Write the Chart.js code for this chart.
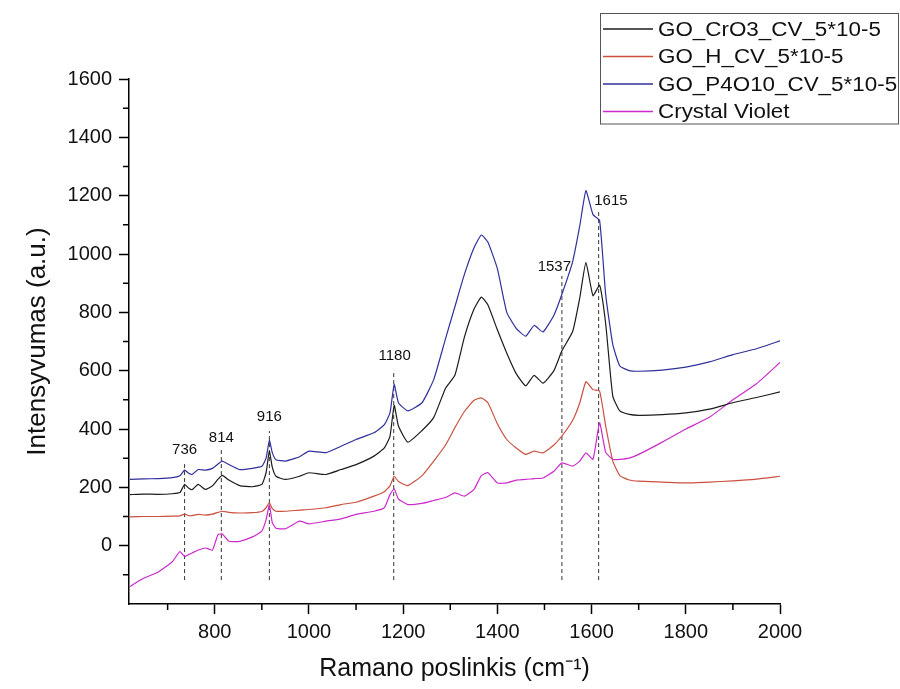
<!DOCTYPE html>
<html lang="lt">
<head>
    <meta charset="UTF-8">
    <title>Ramano spektrai</title>
    <script src="https://cdn.jsdelivr.net/npm/chart.js"></script>
    <style>
        body {
            margin: 0;
            padding: 0;
            background-color: #fff;
        }

        .chart-box {
            width: 900px;
            height: 689px;
            position: relative;
        }
    </style>
</head>
<body>
    <div class="chart-box">
        <canvas id="ramanChart"></canvas>
    </div>

    <script>
        // Raman shift (cm-1), shared by all four spectra
        const wavenumbers = [620, 650, 680, 710, 726, 736, 745, 752, 765, 780,
            795, 807, 816, 830, 853, 880, 900, 909, 916, 922,
            930, 950, 980, 1000, 1036, 1068, 1100, 1138, 1160, 1172,
            1181, 1190, 1210, 1240, 1265, 1290, 1310, 1330, 1350, 1366,
            1380, 1400, 1420, 1440, 1460, 1478, 1497, 1520, 1537, 1560,
            1575, 1588, 1603, 1617, 1630, 1645, 1660, 1680, 1700, 1750,
            1800, 1850, 1900, 1950, 2000];

        const goCrO3 = [175, 177, 176, 178, 182, 210, 197, 192, 210, 193,
            205, 228, 241, 225, 206, 202, 210, 250, 324, 270,
            238, 227, 238, 250, 244, 261, 278, 307, 335, 375,
            481, 410, 355, 395, 440, 540, 585, 715, 810, 852,
            825, 740, 660, 590, 548, 584, 557, 600, 668, 735,
            850, 971, 857, 893, 760, 513, 462, 450, 447, 449,
            455, 468, 490, 508, 527];

        const goH = [99, 100, 100, 101, 102, 108, 103, 103, 107, 105,
            108, 114, 118, 114, 112, 113, 117, 130, 147, 128,
            118, 118, 122, 124, 130, 141, 149, 170, 185, 205,
            238, 220, 206, 240, 290, 345, 405, 460, 498, 507,
            490, 418, 364, 335, 313, 324, 318, 345, 376, 430,
            490, 562, 535, 530, 410, 290, 240, 225, 221, 218,
            215, 218, 222, 228, 238];

        const goP4O10 = [227, 229, 230, 233, 240, 259, 248, 244, 261, 259,
            265, 280, 290, 278, 261, 265, 272, 300, 361, 320,
            295, 290, 305, 324, 319, 341, 364, 387, 415, 455,
            553, 490, 462, 490, 570, 710, 820, 930, 1020, 1065,
            1040, 950, 800, 745, 718, 755, 733, 790, 862, 975,
            1097, 1217, 1135, 1115, 860, 690, 616, 600, 598, 602,
            612, 630, 655, 675, 702];

        const crystalViolet = [-140, -111, -90, -55, -20, -37, -30, -25, -15, -8,
            -15, 38, 40, 15, 15, 30, 50, 89, 140, 80,
            60, 58, 84, 75, 84, 92, 107, 118, 130, 175,
            195, 160, 141, 145, 155, 165, 181, 170, 192, 240,
            250, 215, 215, 225, 227, 230, 232, 255, 284, 273,
            290, 318, 296, 421, 320, 296, 296, 300, 313, 355,
            400, 440, 500, 555, 628];

        const seriesNames = ['GO_CrO3_CV_5*10-5', 'GO_H_CV_5*10-5', 'GO_P4O10_CV_5*10-5', 'Crystal Violet'];
        const seriesColors = ['#1c1c1c', '#c9503f', '#30309c', '#cc2acc'];

        // marked peaks: dashed guide lines and their labels
        const peakPositions = [736, 814, 916, 1180, 1537, 1615];
        const peakLineTops = [285, 330, 393, 599, 925, 1147];
        const peakLineBottom = -118;
        const peakLabelX = [736, 814, 916, 1182, 1521, 1641];
        const peakLabelY = [330, 368, 441, 650, 957, 1183];

        const xMajorTicks = [800, 1000, 1200, 1400, 1600, 1800, 2000];
        const xMinorTicks = [700, 900, 1100, 1300, 1500, 1700, 1900];
        const yMajorTicks = [0, 200, 400, 600, 800, 1000, 1200, 1400, 1600];
        const yMinorTicks = [-100, 100, 300, 500, 700, 900, 1100, 1300, 1500];

        const spectra = [goCrO3, goH, goP4O10, crystalViolet];

        const datasets = spectra.map((values, i) => ({
            label: seriesNames[i],
            data: values.map((v, k) => ({ x: wavenumbers[k], y: v })),
            borderColor: seriesColors[i],
            borderWidth: 1.2,
            pointRadius: 0,
            tension: 0.15,
            fill: false
        }));

        peakPositions.forEach((p, i) => {
            datasets.push({
                label: 'peak ' + p,
                data: [{ x: p, y: peakLineBottom }, { x: p, y: peakLineTops[i] }],
                borderColor: '#333',
                borderWidth: 1,
                borderDash: [4, 3],
                pointRadius: 0,
                fill: false
            });
        });

        // boxed legend in the top right corner
        const boxLegend = {
            id: 'boxLegend',
            afterDraw(chart) {
                const ctx = chart.ctx;
                ctx.save();
                ctx.strokeStyle = '#555';
                ctx.lineWidth = 1;
                ctx.strokeRect(600.5, 13.5, 298, 110.5);
                ctx.textBaseline = 'middle';
                ctx.fillStyle = '#111';
                seriesNames.forEach((name, i) => {
                    const y = 29 + i * 27.5;
                    ctx.strokeStyle = seriesColors[i];
                    ctx.lineWidth = 1.3;
                    ctx.beginPath();
                    ctx.moveTo(603, y);
                    ctx.lineTo(653, y);
                    ctx.stroke();
                    // the original legend text is a bit wider than the font
                    ctx.save();
                    ctx.translate(658, y + 1);
                    ctx.scale(1.12, 1);
                    ctx.font = '20px "Liberation Sans", Arial, sans-serif';
                    ctx.fillText(name, 0, 0);
                    ctx.restore();
                });
                ctx.restore();
            }
        };

        // minor ticks and peak labels
        const extras = {
            id: 'extras',
            afterDraw(chart) {
                const ctx = chart.ctx;
                const xs = chart.scales.x;
                const ys = chart.scales.y;
                ctx.save();
                ctx.strokeStyle = '#000';
                ctx.lineWidth = 1.5;
                ctx.beginPath();
                xMinorTicks.forEach(v => {
                    const px = xs.getPixelForValue(v);
                    ctx.moveTo(px, ys.bottom);
                    ctx.lineTo(px, ys.bottom + 6);
                });
                yMinorTicks.forEach(v => {
                    const py = ys.getPixelForValue(v);
                    ctx.moveTo(xs.left, py);
                    ctx.lineTo(xs.left - 6, py);
                });
                ctx.stroke();

                ctx.font = '15px "Liberation Sans", Arial, sans-serif';
                ctx.fillStyle = '#111';
                ctx.textAlign = 'center';
                ctx.textBaseline = 'middle';
                peakPositions.forEach((p, i) => {
                    ctx.fillText(String(p), xs.getPixelForValue(peakLabelX[i]), ys.getPixelForValue(peakLabelY[i]));
                });
                ctx.restore();
            }
        };

        const ctx = document.getElementById('ramanChart').getContext('2d');
        const ramanChart = new Chart(ctx, {
            type: 'line',
            data: { datasets: datasets },
            options: {
                responsive: true,
                maintainAspectRatio: false,
                animation: false,
                layout: {
                    padding: { left: 0, top: 79, right: 120, bottom: 0 }
                },
                plugins: {
                    legend: { display: false },
                    tooltip: { enabled: false }
                },
                scales: {
                    x: {
                        type: 'linear',
                        min: 618,
                        max: 2000,
                        afterFit(scale) { scale.height = 85; },
                        afterBuildTicks(scale) {
                            scale.ticks = xMajorTicks.map(v => ({ value: v }));
                        },
                        border: { color: '#000', width: 1.5 },
                        grid: { drawOnChartArea: false, color: '#000', tickLength: 10, tickWidth: 1.5 },
                        ticks: {
                            color: '#111',
                            padding: 6,
                            maxRotation: 0,
                            callback: v => String(v),
                            font: { family: '"Liberation Sans", Arial, sans-serif', size: 20 }
                        },
                        title: {
                            display: true,
                            text: 'Ramano poslinkis (cm\u207B\u00B9)',
                            color: '#111',
                            padding: { top: 0, bottom: 5 },
                            font: { family: '"Liberation Sans", Arial, sans-serif', size: 25 }
                        }
                    },
                    y: {
                        min: -200,
                        max: 1600,
                        afterFit(scale) { scale.width = 129; },
                        afterBuildTicks(scale) {
                            scale.ticks = yMajorTicks.map(v => ({ value: v }));
                        },
                        border: { color: '#000', width: 1.5 },
                        grid: { drawOnChartArea: false, color: '#000', tickLength: 10, tickWidth: 1.5 },
                        ticks: {
                            color: '#111',
                            padding: 7,
                            callback: v => String(v),
                            font: { family: '"Liberation Sans", Arial, sans-serif', size: 20 }
                        },
                        title: {
                            display: true,
                            text: 'Intensyvumas (a.u.)',
                            color: '#111',
                            padding: { top: 22, bottom: 0 },
                            font: { family: '"Liberation Sans", Arial, sans-serif', size: 26 }
                        }
                    }
                }
            },
            plugins: [boxLegend, extras]
        });
    </script>
</body>
</html>
